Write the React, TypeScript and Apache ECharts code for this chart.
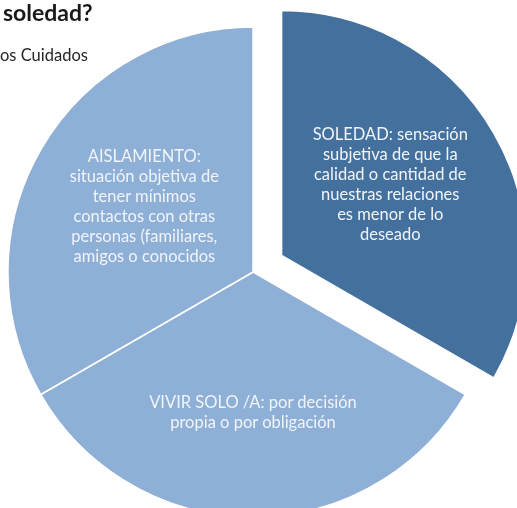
import React, { useEffect, useRef } from "react";
import * as echarts from "echarts";

const categories = [
  "SOLEDAD: sensación\nsubjetiva de que la\ncalidad o cantidad de\nnuestras relaciones\nes menor de lo\ndeseado",
  "VIVIR SOLO /A: por decisión\npropia o por obligación",
  "AISLAMIENTO:\nsituación objetiva de\ntener mínimos\ncontactos con otras\npersonas (familiares,\namigos o conocidos",
];
const values = [1, 1, 1];
const colors = ["#44709d", "#8eafd6", "#8eafd6"];
const exploded = [true, false, false];
const titleText = "soledad?";
const subtitleText = "os Cuidados";

export default function App() {
  const ref = useRef<HTMLDivElement>(null);
  useEffect(() => {
    document.body.style.margin = "0";
    const chart = echarts.init(ref.current!, null, { renderer: "svg" });
    const labelDy = [-9, 14, -3];
    chart.setOption({
      animation: false,
      graphic: [
        {
          type: "text",
          left: 3,
          top: 0,
          style: {
            text: titleText,
            font: "bold 23px Lato, 'Open Sans', sans-serif",
            fill: "#1a1a1a",
          },
        },
        {
          type: "text",
          left: 0,
          top: 46,
          style: {
            text: subtitleText,
            font: "16.5px Lato, 'Open Sans', sans-serif",
            fill: "#262626",
          },
        },
      ],
      series: [
        {
          type: "pie",
          center: [253, 272],
          radius: 245,
          startAngle: 90,
          clockwise: true,
          selectedMode: "multiple",
          selectedOffset: 33,
          silent: true,
          itemStyle: { borderColor: "#ffffff", borderWidth: 1.5 },
          label: {
            position: "inner",
            color: "#f1f4f9",
            fontFamily: "Lato, 'Open Sans', sans-serif",
            fontSize: 16.5,
            lineHeight: 20,
            align: "center",
          },
          labelLayout: (params: any) => ({ dy: labelDy[params.dataIndex] }),
          labelLine: { show: false },
          data: categories.map((name, i) => ({
            name,
            value: values[i],
            selected: exploded[i],
            itemStyle: { color: colors[i] },
          })),
        },
      ],
    });
    return () => chart.dispose();
  }, []);
  return (
    <div
      ref={ref}
      style={{ position: "fixed", left: 0, top: 0, width: 517, height: 508 }}
    />
  );
}
